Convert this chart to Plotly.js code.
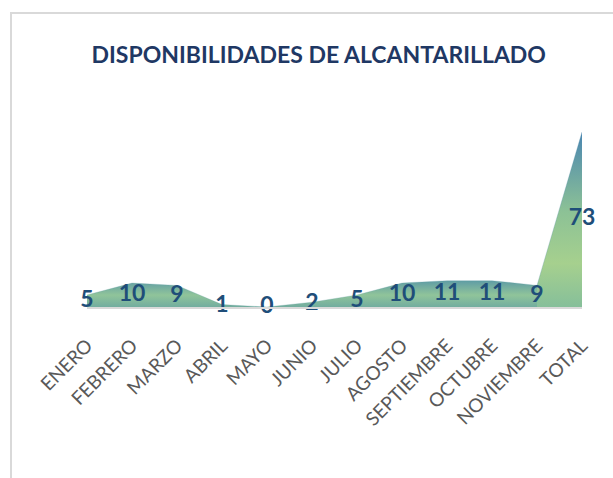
<!DOCTYPE html>
<html>
<head>
<meta charset="utf-8">
<script src="https://cdn.plot.ly/plotly-3.0.1.min.js"></script>
<style>
html,body{margin:0;padding:0;background:#fff;}
#wrap{position:relative;width:613px;height:478px;overflow:hidden;}
#frame{position:absolute;left:10px;top:12px;width:700px;height:600px;border-left:2px solid #d9d9d9;border-top:2px solid #d9d9d9;pointer-events:none;}
#chart{position:absolute;left:0;top:0;width:613px;height:478px;}
</style>
</head>
<body>
<div id="wrap"><div id="chart"></div><div id="frame"></div></div>
<script>
var categories = ["ENERO","FEBRERO","MARZO","ABRIL","MAYO","JUNIO","JULIO","AGOSTO","SEPTIEMBRE","OCTUBRE","NOVIEMBRE","TOTAL"];
var values = [5,10,9,1,0,2,5,10,11,11,9,73];
var chartTitle = "DISPONIBILIDADES DE ALCANTARILLADO";

var nM = categories.length - 1;
var monthTrace = {
  type:'scatter', mode:'lines',
  x: categories.slice(0, nM), y: values.slice(0, nM),
  fill:'tozeroy',
  line:{width:0.5, color:'rgba(90,155,160,0.5)'},
  fillgradient:{type:'vertical', colorscale:[[0,'#72ad9f'],[0.45,'#90c49a'],[1,'#5f9ca5']]},
  hoverinfo:'skip', showlegend:false
};
var totalTrace = {
  type:'scatter', mode:'lines',
  x: categories.slice(nM - 1), y: values.slice(nM - 1),
  fill:'tozeroy',
  line:{width:0.5, color:'rgba(80,140,170,0.5)'},
  fillgradient:{type:'vertical', colorscale:[[0,'#86bf9a'],[0.25,'#a6d08e'],[0.55,'#8cc196'],[1,'#4a86b1']]},
  hoverinfo:'skip', showlegend:false
};
var labelTrace = {
  type:'scatter', mode:'text',
  x: categories, y: values.map(function(v){return v/2;}),
  text: values.map(String),
  textposition:'middle center',
  textfont:{family:'Lato, sans-serif', size:23, weight:'bold', color:'#1f4e79'},
  cliponaxis:false, hoverinfo:'skip', showlegend:false
};

var layout = {
  width:613, height:478,
  margin:{l:87, r:31, t:132, b:171},
  paper_bgcolor:'#ffffff', plot_bgcolor:'#ffffff',
  title:{text:'<b>'+chartTitle+'</b>', x:0.52, xanchor:'center', y:0.885, yanchor:'middle',
         font:{family:'Lato, sans-serif', size:23, color:'#1f3864'}},
  xaxis:{type:'category', range:[0, nM], showgrid:false, zeroline:false,
         showline:true, linecolor:'#d9d9d9', linewidth:2,
         tickangle:-45, ticks:'', ticklabelstandoff:18,
         tickfont:{family:'Lato, sans-serif', size:19, color:'#595959'},
         fixedrange:true},
  yaxis:{range:[0,73], visible:false, fixedrange:true},
  showlegend:false
};
Plotly.newPlot('chart', [monthTrace, totalTrace, labelTrace], layout, {displayModeBar:false, staticPlot:true});
</script>
</body>
</html>
